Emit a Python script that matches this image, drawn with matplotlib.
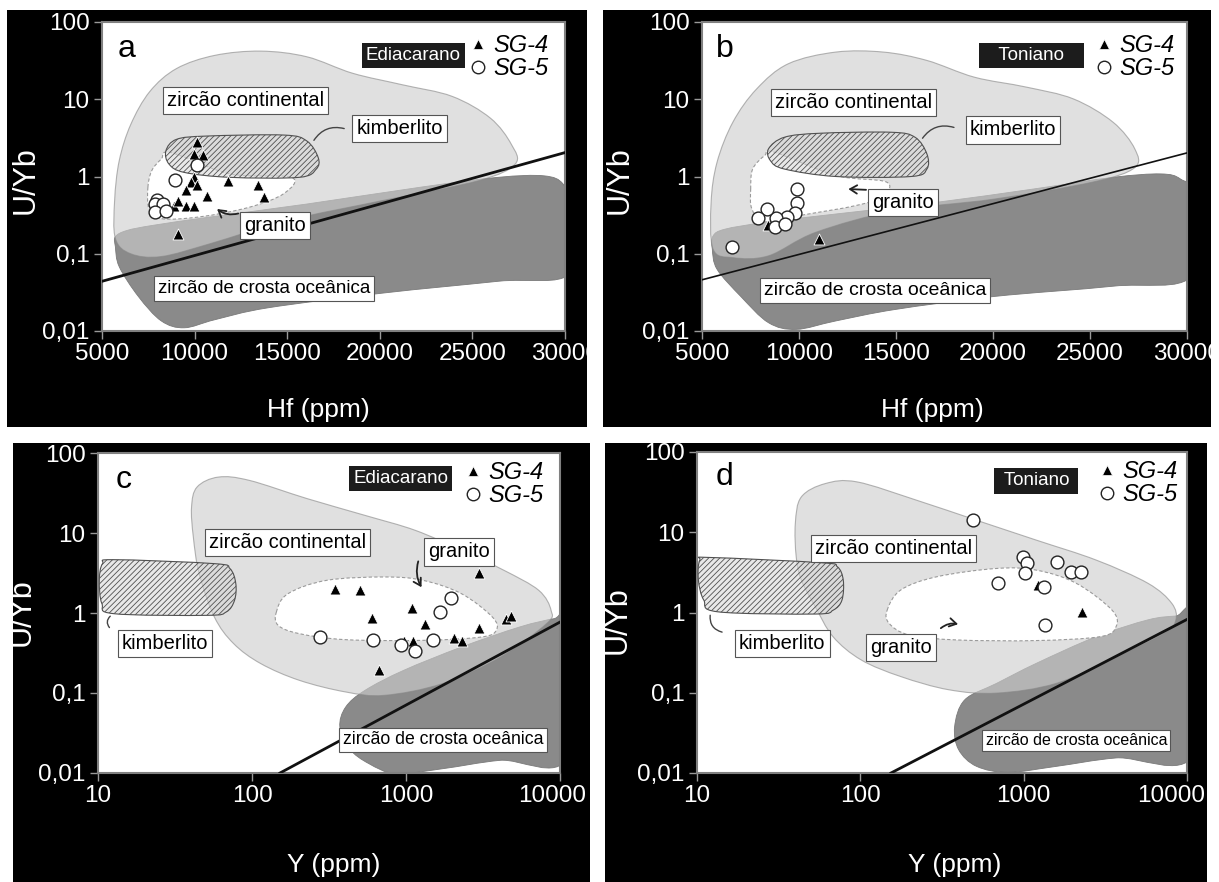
import numpy as np
import matplotlib
matplotlib.use('Agg')
import matplotlib.pyplot as plt
from matplotlib.path import Path
from matplotlib.patches import PathPatch, Rectangle
from matplotlib.lines import Line2D
from matplotlib.transforms import Bbox, TransformedBbox, ScaledTranslation

# ------------------------------------------------------------------ data
HF_TICKS = [5000, 10000, 15000, 20000, 25000, 30000]
HF_TICKLABELS = ['5000', '10000', '15000', '20000', '25000', '30000']
Y_TICKS = [10, 100, 1000, 10000]
Y_TICKLABELS = ['10', '100', '1000', '10000']
UYB_TICKS = [0.01, 0.1, 1, 10, 100]
UYB_TICKLABELS = ['0,01', '0,1', '1', '10', '100']

# panel a  (Hf vs U/Yb, Ediacarano)
A_SG4_HF = [10110, 9985, 10440, 9985, 9790, 10110, 11820, 13440, 9540, 10690, 13750, 8890, 9100, 9540, 9985, 9120]
A_SG4_UYB = [2.8, 1.95, 1.9, 0.99, 0.84, 0.78, 0.875, 0.78, 0.67, 0.56, 0.55, 0.41, 0.48, 0.41, 0.41, 0.18]
A_SG5_HF = [10150, 8950, 7975, 7860, 8285, 7850, 8430]
A_SG5_UYB = [1.41, 0.90, 0.50, 0.44, 0.44, 0.35, 0.36]

# panel b  (Hf vs U/Yb, Toniano)
B_SG4_HF = [8420, 11050]
B_SG4_UYB = [0.235, 0.155]
B_SG5_HF = [9880, 9880, 9800, 9400, 8810, 8340, 7900, 8760, 9280, 6530]
B_SG5_UYB = [0.69, 0.45, 0.34, 0.30, 0.29, 0.38, 0.29, 0.22, 0.245, 0.123]

# panel c  (Y vs U/Yb, Ediacarano)
C_SG4_Y = [346, 503, 598, 1096, 1327, 2978, 2046, 2297, 966, 1116, 2978, 4460, 4780, 664]
C_SG4_UYB = [2.01, 1.96, 0.875, 1.155, 0.735, 3.16, 0.49, 0.447, 0.443, 0.443, 0.65, 0.85, 0.91, 0.196]
C_SG5_Y = [275, 608, 927, 1148, 1497, 1651, 1951]
C_SG5_UYB = [0.50, 0.455, 0.394, 0.335, 0.464, 1.03, 1.56]

# panel d  (Y vs U/Yb, Toniano)
D_SG4_Y = [1230, 2285]
D_SG4_UYB = [2.2, 1.02]
D_SG5_Y = [487, 984, 1041, 1022, 1611, 1950, 2244, 701, 1339, 1355]
D_SG5_UYB = [14.1, 4.85, 4.08, 3.07, 4.28, 3.22, 3.22, 2.31, 2.09, 0.70]

# discriminant lines
AB_LINE_HF = [5000, 30000]
A_LINE_UYB = [0.044, 2.04]
B_LINE_UYB = [0.046, 2.02]
C_LINE_Y = [152, 10000]
C_LINE_UYB = [0.01, 0.77]
D_LINE_Y = [154, 10000]
D_LINE_UYB = [0.01, 0.82]

# field outlines (x, U/Yb)
A_CONT = [(5723, 0.158), (5682, 0.49), (5930, 1.6), (6550, 4.7), (7583, 12.6), (9029, 25), (11095, 37),
          (13574, 42), (16053, 35.5), (18532, 21.7), (21218, 15.4), (23904, 10.9), (25970, 5.7),
          (27106, 2.6), (27313, 1.45), (25350, 0.885), (20185, 0.49), (15020, 0.27), (10888, 0.136),
          (8202, 0.092), (6550, 0.10)]
A_OCEAN = [(5723, 0.166), (6343, 0.20), (7789, 0.234), (10888, 0.30), (16053, 0.44), (22251, 0.73),
           (26383, 0.975), (28862, 1.02), (29895, 0.80), (30300, 0.40), (30300, 0.056), (26383, 0.044),
           (20185, 0.031), (13987, 0.020), (11095, 0.014), (9442, 0.011), (8202, 0.0135), (6963, 0.028),
           (5930, 0.068), (5723, 0.123)]
A_KIMB = [(8450, 2.15), (9029, 3.03), (10682, 3.34), (14814, 3.44), (16053, 2.89), (16673, 1.76),
          (16570, 1.25), (15640, 0.975), (11921, 0.975), (9442, 1.13), (8616, 1.45)]
A_GRAN = [(7479, 0.726), (7686, 1.19), (8202, 1.68), (8719, 2.04), (11921, 1.08), (15227, 0.975),
          (14814, 0.60), (12954, 0.40), (10268, 0.30), (8202, 0.285), (7541, 0.38)]

B_CONT = [(5571, 0.115), (5469, 0.46), (5776, 1.53), (6592, 5.05), (7817, 13.6), (9449, 28.8), (11899, 40.8),
          (14348, 40.8), (16593, 31.8), (19042, 19.3), (21695, 14.4), (24145, 10.1), (26186, 5.05),
          (27308, 2.28), (27300, 1.3), (25165, 0.85), (20063, 0.51), (14960, 0.36), (10878, 0.19),
          (8429, 0.094), (6592, 0.089)]
B_OCEAN = [(5571, 0.17), (6184, 0.208), (8225, 0.254), (11899, 0.327), (17001, 0.46), (22104, 0.69),
           (26186, 0.975), (28635, 1.08), (29656, 0.93), (30268, 0.56), (30268, 0.052), (26186, 0.038),
           (20063, 0.028), (14960, 0.019), (11899, 0.0135), (9858, 0.0105), (8429, 0.0128), (7000, 0.028),
           (5776, 0.063), (5531, 0.115)]
B_KIMB = [(8429, 2.28), (9245, 3.22), (11082, 3.63), (14756, 3.74), (15981, 3.22), (16593, 1.96),
          (16593, 1.25), (15777, 1.0), (11899, 1.0), (9245, 1.25), (8531, 1.6)]
B_GRAN = [(7510, 0.69), (7612, 1.25), (8225, 1.86), (8735, 2.06), (11899, 1.03), (14500, 0.85),
          (14300, 0.55), (12919, 0.42), (10266, 0.32), (8225, 0.26), (7572, 0.38)]

C_CONT = [(41.6, 8.9), (40.5, 21.1), (44, 37.6), (60.5, 50), (96, 45.5), (228, 26.9), (542, 16.6),
          (1148, 10.8), (2296, 6.07), (4335, 3.41), (7280, 1.92), (8750, 1.08), (8170, 0.735),
          (4080, 0.28), (1722, 0.131), (724, 0.0935), (406, 0.103), (203, 0.144), (114, 0.233),
          (76, 0.414), (57, 0.89), (45.4, 3.1)]
C_OCEAN = [(372, 0.0376), (406, 0.0668), (542, 0.108), (966, 0.192), (2296, 0.376), (5460, 0.668),
           (9170, 0.85), (11200, 0.85), (11200, 0.0158), (4080, 0.0144), (1722, 0.0113), (861, 0.0098),
           (574, 0.0131), (430, 0.020)]
C_KIMB = [(10.7, 4.14), (12.7, 4.64), (57, 4.14), (72, 3.58), (78.5, 2.33), (77, 1.44), (68, 1.03),
          (51, 0.935), (12.7, 0.98), (10.6, 1.31), (10.2, 2.56)]
C_GRAN = [(144, 1.03), (171, 1.74), (305, 2.56), (724, 2.82), (1289, 2.56), (2296, 1.74), (3640, 0.89),
          (3857, 0.607), (3062, 0.50), (1289, 0.455), (406, 0.464), (203, 0.552), (148, 0.70)]

D_CONT = [(40.5, 4.94), (40, 12.9), (43.5, 27.5), (61, 40.4), (95.5, 42.4), (222, 25), (515, 14.1),
          (1197, 7.97), (2780, 4.5), (5770, 2.31), (8070, 1.3), (8550, 0.81), (7230, 0.55), (3680, 0.28),
          (1585, 0.131), (683, 0.099), (348, 0.109), (177, 0.159), (101, 0.257), (68, 0.50), (53, 1.18),
          (43.5, 2.54)]
D_OCEAN = [(378, 0.038), (436, 0.0817), (683, 0.131), (1197, 0.233), (2780, 0.50), (5770, 0.81),
           (8550, 0.904), (11000, 0.904), (11000, 0.0169), (3680, 0.0154), (1585, 0.0121), (807, 0.0102),
           (515, 0.0121), (400, 0.0195)]
D_KIMB = [(10.4, 4.5), (12, 4.85), (57.7, 4.17), (72.3, 3.72), (78.6, 2.54), (77.2, 1.43), (68.2, 1.07),
          (53, 0.957), (13.4, 1.02), (11, 1.43), (10.2, 2.54)]
D_GRAN = [(146, 1.07), (177, 1.91), (294, 2.79), (683, 3.54), (1197, 3.37), (2100, 2.31), (3476, 1.07),
          (3680, 0.667), (2938, 0.50), (1197, 0.447), (389, 0.455), (199, 0.525), (150, 0.733)]

# ------------------------------------------------------------------ style
plt.rcParams['font.family'] = ['Liberation Sans', 'DejaVu Sans']
plt.rcParams['hatch.linewidth'] = 0.6

W, H = 1219, 882
fig = plt.figure(figsize=(W / 100, H / 100), dpi=100)
fig.patch.set_facecolor('white')


def frect(x0, y0, x1, y1):
    return [x0 / W, 1 - y1 / H, (x1 - x0) / W, (y1 - y0) / H]


def smooth_patch(ax, pts, logx, logy, **kw):
    P = np.array(pts, float)
    X = np.log10(P[:, 0]) if logx else P[:, 0]
    Y = np.log10(P[:, 1]) if logy else P[:, 1]
    Q = np.column_stack([X, Y])
    n = len(Q)
    verts = [Q[0]]
    codes = [Path.MOVETO]
    for i in range(n):
        p0, p1, p2, p3 = Q[i - 1], Q[i], Q[(i + 1) % n], Q[(i + 2) % n]
        verts += [p1 + (p2 - p0) / 6.0, p2 - (p3 - p1) / 6.0, p2]
        codes += [Path.CURVE4] * 3
    verts.append(Q[0])
    codes.append(Path.CLOSEPOLY)
    V = np.array(verts)
    if logx:
        V[:, 0] = 10 ** V[:, 0]
    if logy:
        V[:, 1] = 10 ** V[:, 1]
    p = PathPatch(Path(V, codes), **kw)
    ax.add_patch(p)
    return p


LBOX = dict(boxstyle='square,pad=0.2', fc='white', ec='#555555', lw=0.8)


def panel(bg, axbox, logx, xticks, xlabels, xlim, cont, ocean, kimb, gran, line_x, line_y,
          sg4x, sg4y, sg5x, sg5y, letter, letter_xy, period, period_xy, leg_anchor,
          labels, arrow, leader, line_lw, ylab_xy, xlab_xy, xlab, last_shift=0):
    rect = Rectangle((bg[0] / W, 1 - bg[3] / H), (bg[2] - bg[0]) / W, (bg[3] - bg[1]) / H,
                     transform=fig.transFigure, facecolor='black', edgecolor='none', zorder=-5)
    fig.add_artist(rect)
    ax = fig.add_axes(frect(*axbox))
    ax.set_facecolor('white')
    if logx:
        ax.set_xscale('log')
    ax.set_yscale('log')

    smooth_patch(ax, ocean, logx, True, fc='#8a8a8a', ec='#7a7a7a', lw=0.6, zorder=1)
    smooth_patch(ax, cont, logx, True, fc='#cecece', alpha=0.62, ec='#888888', lw=0.8, zorder=2)
    smooth_patch(ax, gran, logx, True, fc='white', ec='#9a9a9a', lw=0.8, ls=(0, (3, 2)), zorder=3)
    smooth_patch(ax, kimb, logx, True, fc=(0.85, 0.85, 0.85, 0.6), ec='#505050', lw=0.8,
                 hatch='//////', zorder=4)

    ax.plot(line_x, line_y, color='#111111', lw=line_lw, zorder=5)

    ax.scatter(sg4x, sg4y, marker='^', s=62, c='black', edgecolors='white', linewidths=0.6, zorder=6)
    ax.scatter(sg5x, sg5y, marker='o', s=85, c='white', edgecolors='#222222', linewidths=1.0, zorder=6)

    for (txt, x, y, fs) in labels:
        ax.text(x, y, txt, ha='center', va='center', fontsize=fs, bbox=LBOX, zorder=8)

    (tx, ty), (hx, hy), rad = arrow
    ax.annotate('', xy=(hx, hy), xytext=(tx, ty),
                arrowprops=dict(arrowstyle='->,head_length=0.5,head_width=0.3', color='#222222', lw=1.3,
                                connectionstyle='arc3,rad=%s' % rad), zorder=8)
    (lx0, ly0), (lx1, ly1), lrad = leader
    ax.annotate('', xy=(lx1, ly1), xytext=(lx0, ly0),
                arrowprops=dict(arrowstyle='-', color='#444444', lw=1.0,
                                connectionstyle='arc3,rad=%s' % lrad), zorder=8)

    ax.text(letter_xy[0], letter_xy[1], letter, ha='center', va='center', fontsize=23, zorder=8)
    ax.text(period_xy[0], period_xy[1], period, ha='center', va='center', fontsize=13.5, color='white',
            bbox=dict(boxstyle='square,pad=0.22', fc='#1c1c1c', ec='none'), zorder=8)

    h4 = Line2D([], [], ls='none', marker='^', ms=7, mfc='black', mec='white', mew=0.5)
    h5 = Line2D([], [], ls='none', marker='o', ms=9, mfc='white', mec='#222222', mew=1.0)
    leg = ax.legend([h4, h5], ['SG-4', 'SG-5'], loc='upper right', bbox_to_anchor=leg_anchor,
                    frameon=False, handlelength=0.7, handletextpad=0.3, labelspacing=0.0,
                    borderpad=0, borderaxespad=0,
                    prop=dict(style='italic', size=17))
    leg.set_zorder(9)

    ax.set_xlim(*xlim)
    ax.set_ylim(0.01, 100)
    ax.set_xticks(xticks)
    ax.set_xticklabels(xlabels)
    ax.set_yticks(UYB_TICKS)
    ax.set_yticklabels(UYB_TICKLABELS)
    ax.minorticks_off()
    ax.tick_params(colors='#9a9a9a', labelcolor='white', length=6, width=1.0, pad=3, labelsize=17.5)
    for sp in ax.spines.values():
        sp.set_color('#808080')
        sp.set_linewidth(1.5)

    clip = TransformedBbox(Bbox([[bg[0] / W, 1 - bg[3] / H], [bg[2] / W, 1 - bg[1] / H]]), fig.transFigure)
    xl = ax.get_xticklabels()
    for lab in xl + ax.get_yticklabels():
        lab.set_clip_on(True)
        lab.set_clip_box(clip)
    if last_shift:
        xl[-1].set_transform(xl[-1].get_transform() +
                             ScaledTranslation(last_shift / 100.0, 0, fig.dpi_scale_trans))

    fig.text(ylab_xy[0] / W, 1 - ylab_xy[1] / H, 'U/Yb', rotation=90, color='white', fontsize=22,
             ha='center', va='center')
    fig.text(xlab_xy[0] / W, 1 - xlab_xy[1] / H, xlab, color='white', fontsize=19,
             ha='center', va='center')
    return ax


panel(bg=(7, 10, 587, 427), axbox=(102, 22, 565, 331), logx=False, xticks=HF_TICKS, xlabels=HF_TICKLABELS,
      xlim=(5000, 30000), cont=A_CONT, ocean=A_OCEAN, kimb=A_KIMB, gran=A_GRAN,
      line_x=AB_LINE_HF, line_y=A_LINE_UYB,
      sg4x=A_SG4_HF, sg4y=A_SG4_UYB, sg5x=A_SG5_HF, sg5y=A_SG5_UYB,
      letter='a', letter_xy=(6343, 45), period='Ediacarano', period_xy=(21817, 37), leg_anchor=(0.965, 0.96),
      labels=[('zircão continental', 12748, 9.6, 14.5), ('kimberlito', 21074, 4.24, 14.5),
              ('granito', 14359, 0.229, 14.5), ('zircão de crosta oceânica', 13760, 0.0356, 13.5)],
      arrow=((12500, 0.34), (11100, 0.40), -0.3), leader=((16363, 2.74), (18222, 4.08), -0.4),
      line_lw=2.0, ylab_xy=(26, 180), xlab_xy=(318, 410), xlab='Hf (ppm)')

panel(bg=(603, 10, 1211, 427), axbox=(702, 22, 1187, 331), logx=False, xticks=HF_TICKS, xlabels=HF_TICKLABELS,
      xlim=(5000, 30000), cont=B_CONT, ocean=B_OCEAN, kimb=B_KIMB, gran=B_GRAN,
      line_x=AB_LINE_HF, line_y=B_LINE_UYB,
      sg4x=B_SG4_HF, sg4y=B_SG4_UYB, sg5x=B_SG5_HF, sg5y=B_SG5_UYB,
      letter='b', letter_xy=(6184, 45), period='   Toniano   ', period_xy=(22001, 37), leg_anchor=(0.975, 0.96),
      labels=[('zircão continental', 12817, 8.97, 14.5), ('kimberlito', 21022, 4.0, 14.5),
              ('granito', 15348, 0.46, 14.5), ('zircão de crosta oceânica', 13919, 0.0337, 14)],
      arrow=((13600, 0.67), (12400, 0.69), 0.0), leader=((16287, 2.92), (18124, 4.21), -0.4),
      line_lw=1.2, ylab_xy=(620, 180), xlab_xy=(932, 410), xlab='Hf (ppm)')

panel(bg=(13, 443, 590, 882), axbox=(98, 453, 560, 773), logx=True, xticks=Y_TICKS, xlabels=Y_TICKLABELS,
      xlim=(10, 10000), cont=C_CONT, ocean=C_OCEAN, kimb=C_KIMB, gran=C_GRAN,
      line_x=C_LINE_Y, line_y=C_LINE_UYB,
      sg4x=C_SG4_Y, sg4y=C_SG4_UYB, sg5x=C_SG5_Y, sg5y=C_SG5_UYB,
      letter='c', letter_xy=(14.7, 45.5), period='Ediacarano', period_xy=(923, 47.8), leg_anchor=(0.965, 0.975),
      labels=[('zircão continental', 171, 7.57, 14.5), ('granito', 2203, 5.79, 14.5),
              ('kimberlito', 27.3, 0.418, 14.5), ('zircão de crosta oceânica', 1742, 0.026, 12.7)],
      arrow=((1216, 4.77), (1289, 1.96), 0.25), leader=((12.4, 0.96), (12.2, 0.62), 0.6),
      line_lw=2.0, ylab_xy=(22, 612), xlab_xy=(334, 865), xlab='Y (ppm)', last_shift=-8)

panel(bg=(605, 443, 1207, 882), axbox=(697, 452, 1187, 773), logx=True, xticks=Y_TICKS, xlabels=Y_TICKLABELS,
      xlim=(10, 10000), cont=D_CONT, ocean=D_OCEAN, kimb=D_KIMB, gran=D_GRAN,
      line_x=D_LINE_Y, line_y=D_LINE_UYB,
      sg4x=D_SG4_Y, sg4y=D_SG4_UYB, sg5x=D_SG5_Y, sg5y=D_SG5_UYB,
      letter='d', letter_xy=(14.8, 48.9), period=' Toniano ', period_xy=(1197, 43.6), leg_anchor=(0.98, 0.975),
      labels=[('zircão continental', 160, 6.28, 14.5), ('kimberlito', 33.3, 0.414, 14.5),
              ('granito', 177, 0.362, 14.5), ('zircão de crosta oceânica', 2100, 0.0255, 11.5)],
      arrow=((302, 0.605), (412, 0.70), -0.3), leader=((12.1, 1.0), (14.8, 0.56), 0.5),
      line_lw=2.0, ylab_xy=(618, 620), xlab_xy=(955, 865), xlab='Y (ppm)', last_shift=-16)

fig.savefig('out.png', dpi=100, facecolor='white')
